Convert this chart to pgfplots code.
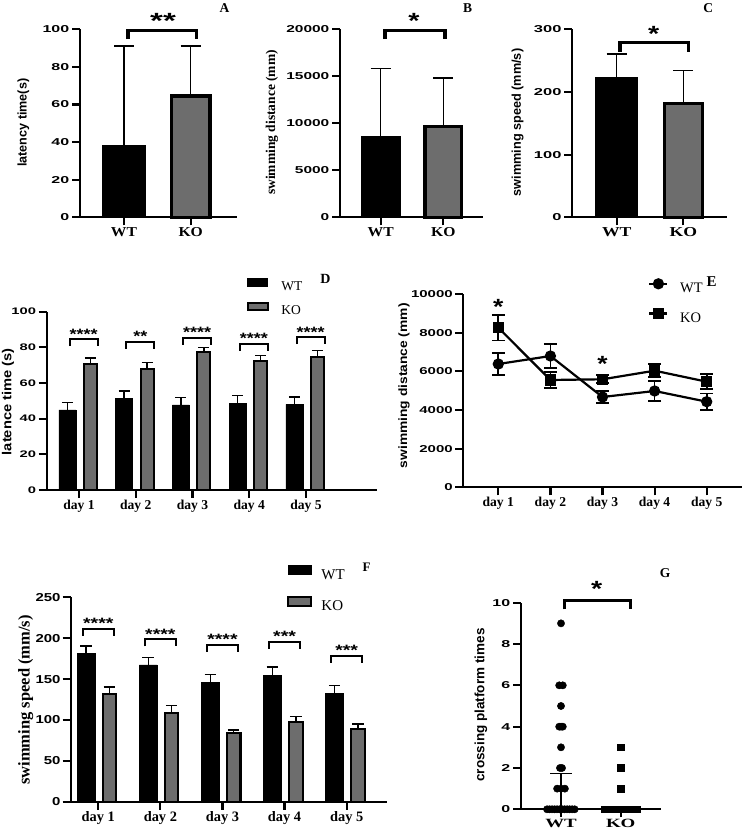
\documentclass[border=0pt]{standalone}
\usepackage{fontspec}
\setmainfont{Liberation Serif}
\newfontfamily\sansf{Liberation Sans}
\usepackage{pgfplots}
\pgfplotsset{compat=1.18}
\definecolor{kogray}{HTML}{6D6D6D}
\newcommand\fs[1]{\fontsize{#1}{#1}\selectfont}

\pgfplotsset{
  panel/.style={
    scale only axis, anchor=south west, clip=false,
    axis lines*=left,
    axis line style={-, line width=2.2pt},
    tick align=outside, major tick length=8pt,
    every tick/.style={black, line width=2.2pt},
    ymin=0,
    /pgf/number format/assume math mode=true,
    /pgf/number format/1000 sep={},
    scaled y ticks=false,
    yticklabel style={font=\sansf\bfseries\fs{10}, inner sep=1.5pt},
    xticklabel style={font=\bfseries\fs{13.6}, inner sep=2pt},
  },
  eb/.style 2 args={
    /pgfplots/error bars/y dir=plus,
    /pgfplots/error bars/y explicit,
    /pgfplots/error bars/error mark=|,
    /pgfplots/error bars/error bar style={line width=#1, black, solid},
    /pgfplots/error bars/error mark options={line width=#1, mark size=#2, black, solid},
  },
  ebboth/.style 2 args={
    /pgfplots/error bars/y dir=both,
    /pgfplots/error bars/y explicit,
    /pgfplots/error bars/error mark=|,
    /pgfplots/error bars/error bar style={line width=#1, black, solid},
    /pgfplots/error bars/error mark options={line width=#1, mark size=#2, black, solid},
  },
}
\tikzset{
  stars/.style={font=\sansf\bfseries\fs{#1}, inner sep=0pt, anchor=north},
  letter/.style={font=\bfseries\fs{#1}, inner sep=0pt},
  ylab/.style={rotate=90, inner sep=0pt},
}

\begin{document}
\begin{tikzpicture}
\useasboundingbox (0,0) rectangle (744pt,837pt);

% ---------------- A: latency ----------------
\begin{axis}[panel, at={(80pt,619.7pt)}, width=156.7pt, height=188pt,
  xmin=0.34, xmax=2.69, ymax=100, ytick={0,20,...,100},
  xtick={1,2}, xticklabels={WT,KO},
  yticklabel style={xscale=1.6}, xticklabel style={xscale=1.15}]
\addplot[ybar, bar width=0.666, bar shift=0, fill=black, draw=none, eb={1.4pt}{10pt}]
  coordinates {(1,38.5) +- (0,52.6)};
\addplot[ybar, bar width=0.576, bar shift=0, fill=kogray, draw=black, line width=3.3pt, eb={1.4pt}{10pt}]
  coordinates {(2,64.5) +- (0,26.6)};
\draw[line width=3.3pt] (axis cs:1.06,94.8) -- (axis cs:1.06,99.3) -- (axis cs:2.09,99.3) -- (axis cs:2.09,94.8);
\node[stars=22, xscale=1.5] at (axis cs:1.585,108.8) {**};
\end{axis}

% ---------------- B: distance ----------------
\begin{axis}[panel, at={(340pt,619.7pt)}, width=143.3pt, height=188pt,
  xmin=0.35, xmax=2.64, ymax=20000, ytick={0,5000,...,20000},
  xtick={1,2}, xticklabels={WT,KO},
  yticklabel style={xscale=1.55}, xticklabel style={xscale=1.15}]
\addplot[ybar, bar width=0.64, bar shift=0, fill=black, draw=none, eb={1.4pt}{10pt}]
  coordinates {(1,8650) +- (0,7160)};
\addplot[ybar, bar width=0.586, bar shift=0, fill=kogray, draw=black, line width=3.3pt, eb={1.4pt}{10pt}]
  coordinates {(2,9640) +- (0,5180)};
\draw[line width=3.3pt] (axis cs:1.07,18960) -- (axis cs:1.07,19860) -- (axis cs:2.03,19860) -- (axis cs:2.03,18960);
\node[stars=22, xscale=1.3] at (axis cs:1.53,21766) {*};
\end{axis}

% ---------------- C: speed ----------------
\begin{axis}[panel, at={(572.3pt,619.7pt)}, width=155pt, height=188pt,
  xmin=0.333, xmax=2.66, ymax=300, ytick={0,100,200,300},
  xtick={1,2}, xticklabels={WT,KO},
  yticklabel style={xscale=1.65}, xticklabel style={xscale=1.3}]
\addplot[ybar, bar width=0.65, bar shift=0, fill=black, draw=none, eb={1.4pt}{10pt}]
  coordinates {(1,224.4) +- (0,36.2)};
\addplot[ybar, bar width=0.566, bar shift=0, fill=kogray, draw=black, line width=3.3pt, eb={1.4pt}{10pt}]
  coordinates {(2,181.9) +- (0,52.0)};
\draw[line width=3.3pt] (axis cs:1.05,264.3) -- (axis cs:1.05,278.6) -- (axis cs:2.075,278.6) -- (axis cs:2.075,264.3);
\node[stars=22, xscale=1.3] at (axis cs:1.553,305.3) {*};
\end{axis}

% ---------------- D: latency per day ----------------
\begin{axis}[panel, at={(46.7pt,347pt)}, width=330pt, height=178.3pt,
  xmin=0.431, xmax=6.246, ymax=100, ytick={0,20,...,100},
  xtick={1,2,3,4,5}, xticklabels={day 1,day 2,day 3,day 4,day 5},
  yticklabel style={font=\sansf\bfseries\fs{9.5}, xscale=1.55},
  legend cell align=left,
  legend image code/.code={\draw[#1,/tikz/.cd] (0pt,0.5pt) rectangle (20pt,7.8pt);},
  legend style={at={(0.606,1.187)}, anchor=north west, draw=none, fill=none,
    inner sep=0pt, outer sep=0pt, row sep=11pt, column sep=12.6pt, font=\fs{13.5},
    nodes={inner sep=0pt, text height=8.5pt, text depth=0pt}}]
\addplot[ybar, bar width=0.30, bar shift=0, fill=black, draw=black, line width=0.5pt, eb={1.5pt}{5.5pt}]
  coordinates {(0.795,44.9) +- (0,4.3) (1.795,51.4) +- (0,4.1) (2.795,47.7) +- (0,4.1)
               (3.795,48.6) +- (0,4.3) (4.795,48.0) +- (0,4.2)};
\addlegendentry{WT}
\addplot[ybar, bar width=0.23, bar shift=0, fill=kogray, draw=black, line width=2pt, eb={1.5pt}{5.5pt}]
  coordinates {(1.2,70.5) +- (0,3.5) (2.2,67.9) +- (0,3.5) (3.2,77.6) +- (0,2.2)
               (4.2,72.5) +- (0,2.8) (5.2,74.8) +- (0,3.3)};
\addlegendentry{KO}
\foreach \d/\t/\s in {1/84.5/****, 2/83.0/**, 3/85.2/****, 4/81.9/****, 5/85.6/****}{
  \edef\tmp{\noexpand\draw[line width=2pt] (axis cs:\d-0.165,\t-3.8) -- (axis cs:\d-0.165,\t) -- (axis cs:\d+0.33,\t) -- (axis cs:\d+0.33,\t-3.8);}\tmp
  \edef\tmp{\noexpand\node[stars=15, xscale=1.2] at (axis cs:\d+0.083,\t+6) {\s};}\tmp
}
\end{axis}

% ---------------- E: distance per day ----------------
\begin{axis}[panel, at={(463.3pt,349.7pt)}, width=278.4pt, height=193.3pt,
  xmin=0.328, xmax=5.672, ymax=10000, ytick={0,2000,...,10000},
  xtick={1,2,3,4,5}, xticklabels={day 1,day 2,day 3,day 4,day 5},
  yticklabel style={xscale=1.5},
  legend cell align=left,
  legend image code/.code={\draw[mark repeat=2,mark phase=2,#1] plot coordinates {(0pt,4.3pt) (9pt,4.3pt) (18pt,4.3pt)};},
  legend style={at={(0.6645,1.076)}, anchor=north west, draw=none, fill=none,
    inner sep=0pt, outer sep=0pt, row sep=16.3pt, column sep=11.6pt, font=\fs{14.5},
    nodes={inner sep=0pt, text height=9pt, text depth=0pt}}]
\addplot[black, line width=2.2pt, mark=*, mark size=4.5pt, mark options={solid, fill=black}, ebboth={1.7pt}{6.5pt}]
  coordinates {(1,6378) +- (0,578) (2,6792) +- (0,603) (3,4671) +- (0,320)
               (4,4982) +- (0,526) (5,4428) +- (0,431)};
\addlegendentry{WT}
\addplot[black, line width=2.2pt, mark=square*, mark size=4.6pt, mark options={solid, fill=black}, ebboth={1.7pt}{6.5pt}]
  coordinates {(1,8257) +- (0,664) (2,5551) +- (0,420) (3,5587) +- (0,207)
               (4,6032) +- (0,336) (5,5463) +- (0,388)};
\addlegendentry{KO}
\node[stars=22, xscale=1.2] at (axis cs:1,9726) {*};
\node[stars=22, xscale=1.2] at (axis cs:3,6793) {*};
\end{axis}

% ---------------- F: speed per day ----------------
\begin{axis}[panel, at={(70.7pt,35.3pt)}, width=316pt, height=204.4pt,
  xmin=0.556, xmax=5.644, ymax=250, ytick={0,50,...,250},
  xtick={1,2,3,4,5}, xticklabels={day 1,day 2,day 3,day 4,day 5},
  yticklabel style={font=\sansf\bfseries\fs{11.5}, xscale=1.3},
  xticklabel style={font=\bfseries\fs{14.4}},
  legend cell align=left,
  legend image code/.code={\draw[#1,/tikz/.cd] (0pt,-0.5pt) rectangle (22.7pt,8.8pt);},
  legend style={at={(0.6854,1.158)}, anchor=north west, draw=none, fill=none,
    inner sep=0pt, outer sep=0pt, row sep=16.6pt, column sep=9.3pt, font=\fs{15},
    nodes={inner sep=0pt, text height=10pt, text depth=0pt}}]
\addplot[ybar, bar width=0.285, bar shift=0, fill=black, draw=black, line width=0.5pt, eb={1.5pt}{5.8pt}]
  coordinates {(0.805,181.6) +- (0,8.9) (1.805,167.3) +- (0,8.9) (2.805,146.1) +- (0,9.3)
               (3.805,154.2) +- (0,10.3) (4.805,132.6) +- (0,9.4)};
\addlegendentry{WT}
\addplot[ybar, bar width=0.22, bar shift=0, fill=kogray, draw=black, line width=2.2pt, eb={1.5pt}{5.8pt}]
  coordinates {(1.18,131.8) +- (0,8.5) (2.18,108.9) +- (0,8.6) (3.18,83.7) +- (0,4.0)
               (4.18,97.9) +- (0,6.1) (5.18,88.6) +- (0,6.5)};
\addlegendentry{KO}
\foreach \d/\t/\s in {1/211.3/****, 2/198.7/****, 3/191.7/****, 4/195.8/***, 5/178.3/***}{
  \edef\tmp{\noexpand\draw[line width=2.2pt] (axis cs:\d-0.25,\t-8.6) -- (axis cs:\d-0.25,\t) -- (axis cs:\d+0.25,\t) -- (axis cs:\d+0.25,\t-8.6);}\tmp
  \edef\tmp{\noexpand\node[stars=15, xscale=1.3] at (axis cs:\d,\t+13) {\s};}\tmp
}
\end{axis}

% ---------------- G: platform crossings ----------------
\begin{axis}[panel, at={(521pt,27.7pt)}, width=140pt, height=206.6pt,
  xmin=0.33, xmax=2.675, ymax=10, ytick={0,2,...,10},
  xtick={1,2}, xticklabels={WT,KO},
  yticklabel style={xscale=1.6}, xticklabel style={font=\bfseries\fs{12.6}, xscale=1.5}]
\addplot[only marks, mark=*, mark size=3.65pt, black]
  coordinates {(1,9) (0.97,6) (1.03,6) (1,5) (0.97,4) (1,4) (1.03,4) (1,3)
               (0.983,2) (1.017,2) (0.935,1) (1,1) (1.065,1)
               (0.766,0) (0.808,0) (0.85,0) (0.892,0) (0.934,0) (0.976,0)
               (1.018,0) (1.06,0) (1.102,0) (1.144,0) (1.186,0) (1.229,0)};
\addplot[only marks, mark=square*, mark size=3.3pt, black]
  coordinates {(2,3) (2,2) (2,1)
               (1.724,0) (1.766,0) (1.808,0) (1.85,0) (1.892,0) (1.934,0) (1.976,0)
               (2.018,0) (2.06,0) (2.102,0) (2.144,0) (2.186,0) (2.228,0) (2.265,0)};
\addplot[mark=none, eb={1.5pt}{10.8pt}] coordinates {(1,0) +- (0,1.74)};
\draw[line width=3pt] (axis cs:1.055,9.68) -- (axis cs:1.055,10.13) -- (axis cs:2.156,10.13) -- (axis cs:2.156,9.68);
\node[stars=22, xscale=1.3] at (axis cs:1.598,11.02) {*};
\end{axis}

% ---------------- axis titles and panel letters ----------------
\node[ylab, font=\sansf\bfseries\fs{12.6}] at (23.3pt,714.2pt) {latency time(s)};
\node[ylab, font=\bfseries\fs{13.5}] at (272pt,714.5pt) {swimming distance (mm)};
\node[ylab, font=\sansf\bfseries\fs{12.7}] at (517.5pt,714.5pt) {swimming speed (mm/s)};
\node[ylab, xscale=1.13, font=\sansf\bfseries\fs{13}] at (8pt,435.3pt) {latence time (s)};
\node[ylab, xscale=1.15, font=\sansf\bfseries\fs{12}] at (404pt,451.2pt) {swimming distance (mm)};
\node[ylab, font=\bfseries\fs{16.5}] at (25.8pt,137pt) {swimming speed (mm/s)};
\node[ylab, font=\sansf\bfseries\fs{13.5}] at (480.8pt,132pt) {crossing platform times};

\node[letter=13.5] at (224.5pt,828.7pt) {A};
\node[letter=13.5] at (467.5pt,829pt) {B};
\node[letter=13.5] at (708.3pt,829pt) {C};
\node[letter=14] at (325.3pt,558.3pt) {D};
\node[letter=15] at (711.7pt,555.3pt) {E};
\node[letter=13] at (366.7pt,269.5pt) {F};
\node[letter=13.5] at (665pt,264pt) {G};
\end{tikzpicture}
\end{document}
